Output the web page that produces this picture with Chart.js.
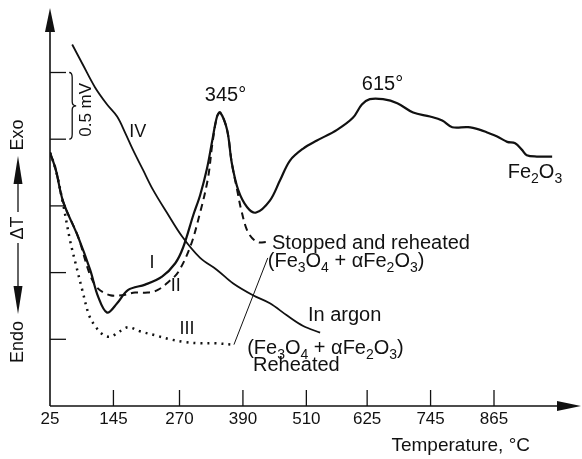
<!DOCTYPE html>
<html>
<head>
<meta charset="utf-8">
<script src="https://cdn.jsdelivr.net/npm/chart.js@4.4.0/dist/chart.umd.min.js"></script>
<style>
  html, body { margin: 0; background: #fff; }
  #wrap { width: 582px; height: 459px; }
</style>
</head>
<body>
<div id="wrap"><canvas id="dta" width="582" height="459"></canvas></div>
<script>
// temperature axis (°C) and the ΔT tick marks (mV)
const tempTicks = [25, 145, 270, 390, 510, 625, 745, 865];
const mvTicks = [0.5, 1.0, 1.5, 2.0, 2.5];

// I – first heating in air
const curveI_T = [25, 36, 50, 78, 101, 116, 133, 152, 173, 205, 237, 262, 277, 296, 309, 322, 332, 341, 347, 360, 369, 381, 398, 415, 441, 460, 479, 504, 530, 568, 598, 615, 630, 655, 682, 712, 744, 767, 786, 816, 839, 852, 871, 890, 905, 918, 927, 946, 975];
const curveI_V = [1.90, 1.77, 1.53, 1.27, 1.02, 0.82, 0.70, 0.77, 0.87, 0.91, 0.97, 1.07, 1.19, 1.43, 1.58, 1.78, 1.99, 2.17, 2.20, 2.07, 1.82, 1.62, 1.49, 1.45, 1.54, 1.69, 1.84, 1.93, 1.99, 2.07, 2.16, 2.26, 2.30, 2.30, 2.27, 2.20, 2.17, 2.14, 2.09, 2.09, 2.07, 2.05, 2.02, 1.98, 1.97, 1.92, 1.88, 1.87, 1.87];

// II – stopped after the 345° peak
const curveII_T = [25, 36, 50, 78, 101, 116, 139, 161, 186, 210, 229, 252, 267, 290, 309, 324, 332, 341, 347, 360, 369, 379, 388, 400, 417, 437];
const curveII_V = [1.90, 1.77, 1.53, 1.27, 0.98, 0.88, 0.83, 0.83, 0.85, 0.85, 0.87, 0.94, 1.00, 1.19, 1.45, 1.71, 1.96, 2.17, 2.20, 2.07, 1.82, 1.62, 1.45, 1.30, 1.23, 1.23];

// III – reheated
const curveIII_T = [25, 36, 50, 63, 74, 86, 99, 112, 127, 140, 157, 173, 195, 224, 252, 280, 309, 337, 371];
const curveIII_V = [1.90, 1.77, 1.51, 1.24, 1.06, 0.87, 0.68, 0.59, 0.53, 0.52, 0.56, 0.59, 0.56, 0.53, 0.50, 0.48, 0.47, 0.47, 0.46];

// IV – in argon
const curveIV_T = [67, 87, 110, 133, 152, 167, 182, 201, 220, 246, 275, 309, 341, 371, 409, 441, 473, 504, 536];
const curveIV_V = [2.71, 2.56, 2.39, 2.26, 2.17, 2.05, 1.92, 1.77, 1.62, 1.45, 1.27, 1.11, 1.02, 0.92, 0.83, 0.77, 0.68, 0.60, 0.55];

const INK = '#111';
const FONT = '"Liberation Sans", Arial, sans-serif';

function toPoints(xs, ys) {
    return xs.map((t, i) => ({ x: t, y: ys[i] }));
}

function line(ctx, x1, y1, x2, y2) {
    ctx.beginPath();
    ctx.moveTo(x1, y1);
    ctx.lineTo(x2, y2);
    ctx.stroke();
}

// text with subscripts, parts = [[text, isSub], ...]
function drawRich(ctx, parts, x, y, size) {
    let cx = x;
    ctx.textAlign = 'left';
    parts.forEach(([t, sub]) => {
        ctx.font = (sub ? Math.round(size * 0.72) : size) + 'px ' + FONT;
        ctx.fillText(t, cx, sub ? y + size * 0.32 : y);
        cx += ctx.measureText(t).width;
    });
}

function drawText(ctx, text, x, y, size, align) {
    ctx.font = size + 'px ' + FONT;
    ctx.textAlign = align || 'left';
    ctx.fillText(text, x, y);
}

const formula = [['(Fe', 0], ['3', 1], ['O', 0], ['4', 1], [' + \u03b1Fe', 0], ['2', 1], ['O', 0], ['3', 1], [')', 0]];

const decor = {
    id: 'decor',
    afterDatasetsDraw(chart) {
        const { ctx, chartArea: a, scales: { x, y } } = chart;
        ctx.save();
        ctx.strokeStyle = INK;
        ctx.fillStyle = INK;
        ctx.textBaseline = 'middle';

        // axes with arrowheads
        ctx.lineWidth = 1.6;
        line(ctx, a.left, a.bottom, a.left, a.top + 10);
        line(ctx, a.left, a.bottom, a.right - 10, a.bottom);
        ctx.beginPath();
        ctx.moveTo(a.left, a.top - 2);
        ctx.lineTo(a.left - 5, a.top + 22);
        ctx.lineTo(a.left + 5, a.top + 22);
        ctx.closePath();
        ctx.fill();
        ctx.beginPath();
        ctx.moveTo(a.right + 1, a.bottom);
        ctx.lineTo(a.right - 23, a.bottom - 5);
        ctx.lineTo(a.right - 23, a.bottom + 5);
        ctx.closePath();
        ctx.fill();

        // inward tick marks
        ctx.lineWidth = 1.3;
        tempTicks.slice(1).forEach(t => {
            const px = x.getPixelForValue(t);
            line(ctx, px, a.bottom, px, a.bottom - 16);
        });
        mvTicks.forEach(v => {
            const py = y.getPixelForValue(v);
            line(ctx, a.left, py, a.left + 16, py);
        });

        // tick labels and axis title
        tempTicks.forEach(t => drawText(ctx, String(t), x.getPixelForValue(t), a.bottom + 13, 17, 'center'));
        drawText(ctx, 'Temperature, \u00b0C', a.right - 50, a.bottom + 40, 19, 'right');

        // ΔT axis label, read bottom to top
        const lx = 18;
        const rot = (text, cy, size) => {
            ctx.save();
            ctx.translate(lx, cy);
            ctx.rotate(-Math.PI / 2);
            drawText(ctx, text, 0, 0, size, 'center');
            ctx.restore();
        };
        rot('Endo', 342, 18);
        rot('\u0394T', 228, 18);
        rot('Exo', 135, 18);
        ctx.lineWidth = 1.3;
        line(ctx, lx, 243, lx, 290);
        line(ctx, lx, 182, lx, 212);
        ctx.beginPath();
        ctx.moveTo(lx, 314); ctx.lineTo(lx - 4.5, 286); ctx.lineTo(lx + 4.5, 286);
        ctx.closePath(); ctx.fill();
        ctx.beginPath();
        ctx.moveTo(lx, 156); ctx.lineTo(lx - 4.5, 184); ctx.lineTo(lx + 4.5, 184);
        ctx.closePath(); ctx.fill();

        // 0.5 mV scale bracket
        const bx = x.getPixelForValue(67);
        const yt = y.getPixelForValue(2.5), yb = y.getPixelForValue(2.0), ym = (yt + yb) / 2;
        ctx.lineWidth = 1.3;
        ctx.beginPath();
        ctx.moveTo(bx - 3, yt);
        ctx.quadraticCurveTo(bx, yt, bx, yt + 5);
        ctx.lineTo(bx, ym - 4);
        ctx.quadraticCurveTo(bx, ym, bx + 4, ym);
        ctx.quadraticCurveTo(bx, ym, bx, ym + 4);
        ctx.lineTo(bx, yb - 5);
        ctx.quadraticCurveTo(bx, yb, bx - 3, yb);
        ctx.stroke();
        ctx.save();
        ctx.translate(x.getPixelForValue(93), y.getPixelForValue(2.22));
        ctx.rotate(-Math.PI / 2);
        drawText(ctx, '0.5 mV', 0, 0, 17, 'center');
        ctx.restore();

        // curve labels and peak temperatures
        const at = (t, v) => [x.getPixelForValue(t), y.getPixelForValue(v)];
        drawText(ctx, '345\u00b0', ...at(318, 2.33), 20);
        drawText(ctx, '615\u00b0', ...at(615, 2.41), 20);
        drawText(ctx, 'IV', ...at(191, 2.05), 18, 'center');
        drawText(ctx, 'I', ...at(218, 1.07), 18, 'center');
        drawText(ctx, 'II', ...at(263, 0.90), 18, 'center');
        drawText(ctx, 'III', ...at(284, 0.58), 18, 'center');
        drawText(ctx, 'Stopped and reheated', ...at(445, 1.22), 20);
        drawRich(ctx, formula, ...at(437, 1.08), 20);
        drawText(ctx, 'In argon', ...at(513, 0.675), 20);
        drawRich(ctx, formula, ...at(398, 0.43), 20);
        drawText(ctx, 'Reheated', ...at(409, 0.30), 20);
        drawRich(ctx, [['Fe', 0], ['2', 1], ['O', 0], ['3', 1]], ...at(891, 1.75), 20);

        // leader from the reheated label up to the formula
        ctx.lineWidth = 1;
        line(ctx, ...at(437, 1.11), ...at(373, 0.46));
        ctx.restore();
    }
};

function series(xs, ys, width, dash) {
    return {
        data: toPoints(xs, ys),
        borderColor: INK,
        borderWidth: width,
        borderDash: dash || [],
        pointRadius: 0,
        fill: false,
        tension: 0.35
    };
}

new Chart(document.getElementById('dta'), {
    type: 'line',
    data: {
        datasets: [
            series(curveI_T, curveI_V, 2.2),
            series(curveII_T, curveII_V, 2, [7, 5]),
            series(curveIII_T, curveIII_V, 2.5, [2, 5]),
            series(curveIV_T, curveIV_V, 1.8)
        ]
    },
    options: {
        responsive: false,
        animation: false,
        devicePixelRatio: 1,
        layout: { padding: { left: 50, top: 10, right: 2, bottom: 53 } },
        plugins: { legend: { display: false }, tooltip: { enabled: false } },
        scales: {
            x: { type: 'linear', min: 25, max: 1027.7, display: false },
            y: { type: 'linear', min: 0, max: 2.9685, display: false }
        }
    },
    plugins: [decor]
});
</script>
</body>
</html>
